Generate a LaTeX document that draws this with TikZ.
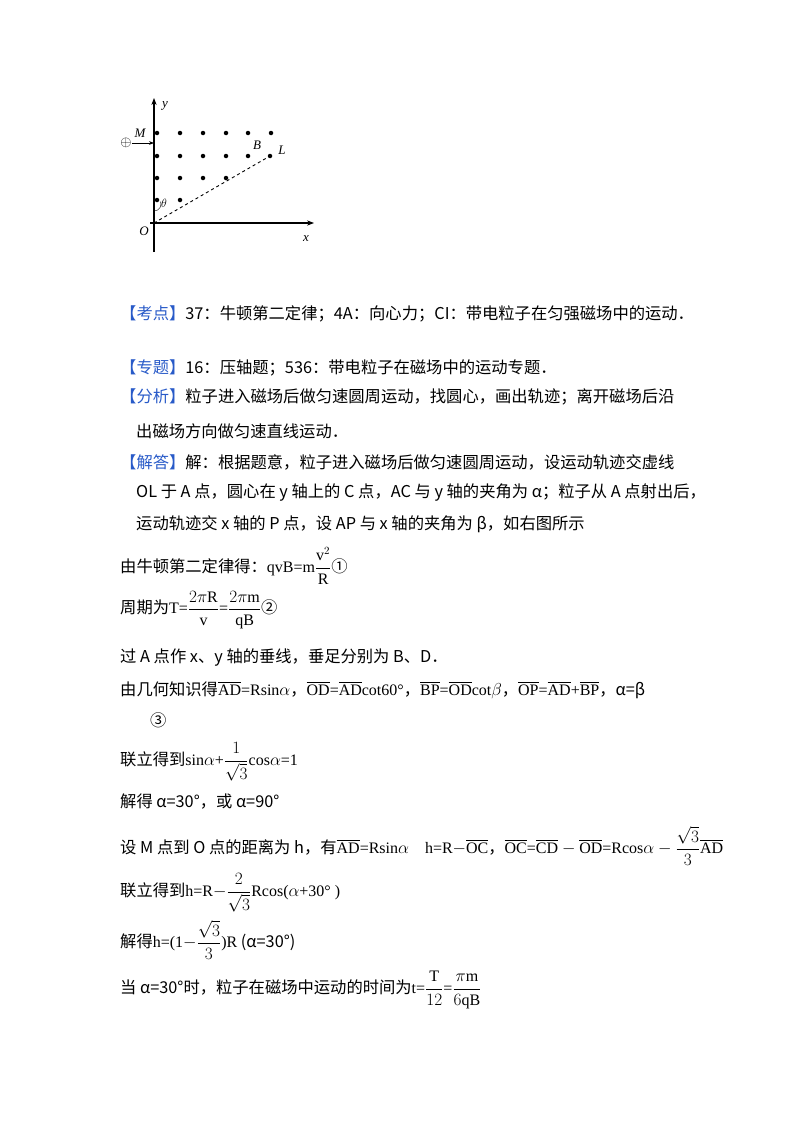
\documentclass[tikz,border=0pt]{standalone}
\usepackage{amsmath}
\usepackage{fontspec}
\setmainfont{Noto Sans CJK SC}
\setmathrm{Liberation Serif}
\newfontfamily\serif{Liberation Serif}
\usetikzlibrary{arrows.meta}
\definecolor{kblue}{RGB}{40,90,200}
\newcommand{\ov}[1]{\overline{\mathrm{#1}}}
\newcommand{\sr}[1]{{\serif\fontsize{16}{18}\selectfont #1}}
\begin{document}
\begin{tikzpicture}[x=1pt,y=-1pt,
  t/.style={anchor=west,inner sep=0pt,font=\fontsize{16.3}{19}\selectfont},
  lab/.style={inner sep=0pt,font=\serif\itshape\fontsize{13}{14}\selectfont},
  dot/.style={circle,fill,inner sep=0pt,minimum size=4.5pt}]
\useasboundingbox (0,0) rectangle (800,1132);
% diagram
\coordinate (O) at (154,223);
\draw[-{Stealth[length=7pt]},line width=1.1pt] (154,252) -- (154,98);
\draw[-{Stealth[length=7pt]},line width=1.1pt] (150,223) -- (314,223);
\foreach \x in {157,180,203,226,248,271} \node[dot] at (\x,133) {};
\foreach \x in {157,180,203,226,248} \node[dot] at (\x,156) {};
\foreach \x in {157,180,203,226} \node[dot] at (\x,178) {};
\foreach \x in {157,180} \node[dot] at (\x,200) {};
\node[dot] (Lp) at (270,156) {};
\draw[dashed,line width=0.9pt] (O) -- (Lp);
\draw (154,211) arc[start angle=90,end angle=-20,radius=7];
\node[lab] at (165,106) {y};
\node[lab] at (140,133) {M};
\node[inner sep=0pt,font=\fontsize{15}{15}\selectfont] (p) at (126,143) {$\oplus$};
\draw[-{Stealth[length=5pt]},line width=1pt] (p) -- (154,143);
\node[lab] at (257,145) {B};
\node[lab] at (282,150) {L};
\node[lab] at (164,203) {$\theta$};
\node[lab] at (144,231) {O};
\node[lab] at (306,239) {x};
% text
\node[t] at (120,314) {\textcolor{kblue}{【考点】}37：牛顿第二定律；4A：向心力；CI：带电粒子在匀强磁场中的运动．};
\node[t] at (120,368) {\textcolor{kblue}{【专题】}16：压轴题；536：带电粒子在磁场中的运动专题．};
\node[t] at (120,397) {\textcolor{kblue}{【分析】}粒子进入磁场后做匀速圆周运动，找圆心，画出轨迹；离开磁场后沿};
\node[t] at (136,431) {出磁场方向做匀速直线运动．};
\node[t] at (120,462) {\textcolor{kblue}{【解答】}解：根据题意，粒子进入磁场后做匀速圆周运动，设运动轨迹交虚线};
\node[t] at (136,493) {OL 于 A 点，圆心在 y 轴上的 C 点，AC 与 y 轴的夹角为 α；粒子从 A 点射出后，};
\node[t] at (136,524) {运动轨迹交 x 轴的 P 点，设 AP 与 x 轴的夹角为 β，如右图所示};
\node[t] at (120,566) {由牛顿第二定律得：\sr{qvB=m$\dfrac{\mathrm{v}^2}{\mathrm{R}}$}①};
\node[t] at (120,610) {周期为\sr{T=$\dfrac{2\pi\mathrm{R}}{\mathrm{v}}$=$\dfrac{2\pi\mathrm{m}}{\mathrm{qB}}$}②};
\node[t] at (120,658) {过 A 点作 x、y 轴的垂线，垂足分别为 B、D．};
\node[t] at (120,690) {由几何知识得\sr{$\ov{AD}$=Rsin$\alpha$}，\sr{$\ov{OD}$=$\ov{AD}$cot60°}，\sr{$\ov{BP}$=$\ov{OD}$cot$\beta$}，\sr{$\ov{OP}$=$\ov{AD}$+$\ov{BP}$}，α=β};
\node[t] at (150,720) {③};
\node[t] at (120,762) {联立得到\sr{sin$\alpha$+$\dfrac{1}{\sqrt{3}}$cos$\alpha$=1}};
\node[t] at (120,802) {解得 α=30°，或 α=90°};
\node[t] at (120,846) {设 M 点到 O 点的距离为 h，有\sr{$\ov{AD}$=Rsin$\alpha$\quad h=R$-\ov{OC}$}，\sr{$\ov{OC}$=$\ov{CD}-\ov{OD}$=Rcos$\alpha-\dfrac{\sqrt{3}}{3}\ov{AD}$}};
\node[t] at (120,893) {联立得到\sr{h=R$-\dfrac{2}{\sqrt{3}}$Rcos($\alpha$+30°\ )}};
\node[t] at (120,940) {解得\sr{h=(1$-\dfrac{\sqrt{3}}{3}$)R} (α=30°)};
\node[t] at (120,990) {当 α=30°时，粒子在磁场中运动的时间为\sr{t=$\dfrac{\mathrm{T}}{12}$=$\dfrac{\pi\mathrm{m}}{6\mathrm{qB}}$}};
\end{tikzpicture}
\end{document}
